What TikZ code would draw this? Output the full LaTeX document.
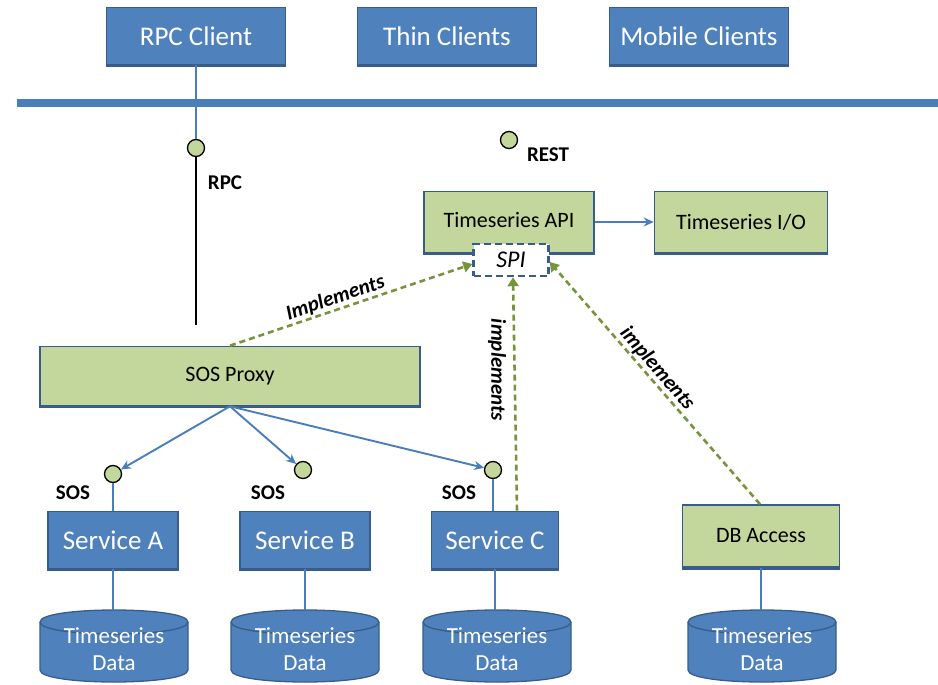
\documentclass[tikz,border=0pt]{standalone}
\usepackage{fontspec}
\setmainfont{Carlito}
\usetikzlibrary{arrows.meta,calc}
\definecolor{blueFill}{HTML}{4F81BD}
\definecolor{blueDark}{HTML}{385D8A}
\definecolor{blueLine}{HTML}{4A7EBB}
\definecolor{greenFill}{HTML}{C3D69B}
\definecolor{greenDash}{HTML}{77933C}
\begin{document}
\begin{tikzpicture}[x=1pt,y=-1pt,
  shade bottom/.style={append after command={(\tikzlastnode.south west) edge[draw=blueDark, line width=3.5pt, line cap=butt] (\tikzlastnode.south east)}},
  bluebox/.style={draw=blueDark, fill=blueFill, line width=1.6pt, text=white,
    font=\fontsize{27}{30}\selectfont, inner sep=0pt, minimum height=57pt, shade bottom},
  greenbox/.style={draw=blueDark, fill=greenFill, line width=1.6pt, text=black,
    font=\fontsize{22}{26}\selectfont, inner sep=0pt, minimum height=61pt, shade bottom},
  circ/.style={circle, draw=black, fill=greenFill, line width=1.3pt, minimum size=17pt, inner sep=0pt},
  lbl/.style={font=\fontsize{21}{24}\selectfont\bfseries, inner sep=0pt},
  implbl/.style={font=\fontsize{21}{24}\selectfont\bfseries\itshape, inner sep=1pt},
  bluearrow/.style={draw=blueLine, line width=1.9pt, -{Stealth[length=10pt,width=9pt]}},
  blueline/.style={draw=blueLine, line width=1.5pt},
  impl/.style={draw=greenDash, line width=2.6pt, dash pattern=on 6pt off 4pt, -{Triangle[length=9pt,width=11pt]}}
]
\useasboundingbox (0,0) rectangle (938,685);

% clients
\node[bluebox, minimum width=179pt] (rpcc) at (196,36) {RPC Client};
\node[bluebox, minimum width=179pt] (thin) at (447,36) {Thin Clients};
\node[bluebox, minimum width=179pt] (mob) at (699,36) {Mobile Clients};

% bus
\node[fill=blueLine, inner sep=0pt, minimum width=921pt, minimum height=8pt] (bus) at (477.5,103) {};

% RPC
\node[circ] (rpcdot) at (196,148) {};
\coordinate (rpcend) at (196,325);
\draw[blueline] (rpcc.south) -- (rpcdot.north);
\draw[black, line width=1.6pt] (rpcdot.south) -- (rpcend);
\node[lbl] (rpclbl) at (225,183) {RPC};

% REST
\node[circ] (restdot) at (509,140) {};
\node[lbl] (restlbl) at (548,155) {REST};

% Timeseries API / IO
\node[greenbox, minimum width=170pt] (api) at (509,222) {\raisebox{5pt}{Timeseries API}};
\node[greenbox, minimum width=173pt] (tio) at (741,222) {Timeseries I/O};
\draw[bluearrow] (api.east) -- (tio.west);
\node[draw=blueDark, fill=white, line width=2.4pt, dash pattern=on 7pt off 4pt,
  minimum width=75pt, minimum height=32pt, inner sep=0pt,
  font=\fontsize{24}{26}\selectfont\itshape] (spi) at (511,260) {SPI};

% SOS proxy
\node[greenbox, minimum width=380pt, minimum height=59pt] (proxy) at (230,376) {SOS Proxy};

% services
\node[bluebox, minimum width=130pt] (svcA) at (113,540) {Service A};
\node[bluebox, minimum width=130pt] (svcB) at (305,540) {Service B};
\node[bluebox, minimum width=127pt] (svcC) at (495,540) {Service C};
\node[greenbox, minimum width=157pt, minimum height=62pt] (db) at (761,536) {DB Access};

% SOS interfaces
\node[circ] (cA) at (113,474) {};
\node[circ] (cB) at (303,470) {};
\node[circ] (cC) at (493,470) {};
\node[lbl] (sosA) at (73,493) {SOS};
\node[lbl] (sosB) at (268,493) {SOS};
\node[lbl] (sosC) at (459,493) {SOS};
\draw[blueline] (cA.south) -- (svcA.north);
\draw[blueline] (cC.south) -- (cC.south |- svcC.north);
\draw[bluearrow] (proxy.south) -- (cA);
\draw[bluearrow] (proxy.south) -- (cB);
\draw[bluearrow] (proxy.south) -- (cC);

% implements
\draw[impl] (proxy.north) -- node[implbl, pos=0.45, above, sloped] (imp1) {Implements} ([yshift=-4pt]spi.west);
\draw[impl] ([xshift=22pt]svcC.north) -- ([xshift=2pt]spi.south);
\node[implbl, rotate=-90] (imp2) at (497,370) {implements};
\draw[impl] ([xshift=-1pt]db.north) -- node[implbl, pos=0.53, above, sloped] (imp3) {implements} ([yshift=-2pt]spi.east);

% data stores
\foreach \cx/\nm/\sv in {114/dA/svcA, 305/dB/svcB, 497/dC/svcC, 762/dD/db} {
  \fill[blueFill] ({\cx-74},622) -- ({\cx-74},670) .. controls ({\cx-74},686) and ({\cx+74},686) .. ({\cx+74},670)
     -- ({\cx+74},622) .. controls ({\cx+74},606) and ({\cx-74},606) .. ({\cx-74},622) -- cycle;
  \draw[blueDark, line width=1.3pt] ({\cx-74},622) -- ({\cx-74},670) .. controls ({\cx-74},686) and ({\cx+74},686) .. ({\cx+74},670)
     -- ({\cx+74},622) .. controls ({\cx+74},606) and ({\cx-74},606) .. ({\cx-74},622);
  \draw[blueDark, line width=1.3pt] ({\cx-74},622) .. controls ({\cx-74},638) and ({\cx+74},638) .. ({\cx+74},622);
  \node[text=white, align=center, font=\fontsize{23}{27}\selectfont, inner sep=0pt,
    minimum width=148pt, minimum height=72pt] (\nm) at (\cx,646) {\\[-4pt]Timeseries\\Data};
  \draw[blueline] (\sv.south) -- (\sv.south |- \nm.north);
}
\end{tikzpicture}
\end{document}
